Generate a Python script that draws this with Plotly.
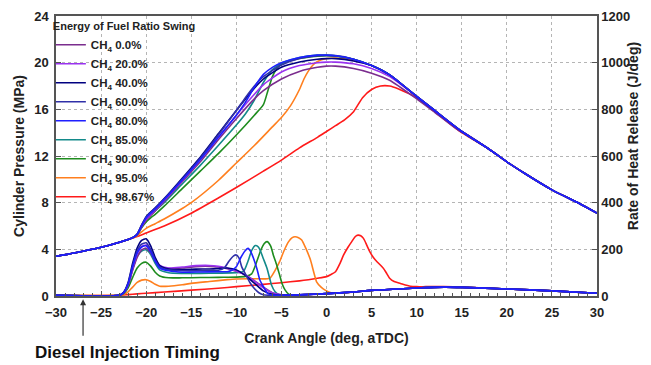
import plotly.graph_objects as go

# ---------------- data ----------------
LABELS = ["CH<sub>4</sub> 0.0%", "CH<sub>4</sub> 20.0%", "CH<sub>4</sub> 40.0%", "CH<sub>4</sub> 60.0%",
          "CH<sub>4</sub> 80.0%", "CH<sub>4</sub> 85.0%", "CH<sub>4</sub> 90.0%", "CH<sub>4</sub> 95.0%",
          "CH<sub>4</sub> 98.67%"]
COLORS = ["#7b2d8e", "#9a32f0", "#000080", "#3030a8", "#1f1fff", "#138a8a", "#1e8c1e", "#ff7f1e", "#ff1a1a"]

# Cylinder pressure (MPa): shared compression / expansion parts
CA_COMP = [-30, -28, -26, -24, -22, -21.5]
P_COMP = [3.4, 3.68, 4.0, 4.38, 4.85, 5.0]
CA_EXP = [5, 7, 10, 12, 15, 18, 20, 22, 25, 28, 30]
P_EXP = [19.75, 18.95, 17.1, 15.9, 14.1, 12.6, 11.5, 10.5, 9.1, 7.95, 7.1]

CA_P0 = [-21, -20.5, -20, -19.5, -19, -18, -16, -14, -12, -10, -8, -7, -5, -3, -1, 0, 1, 3, 5, 7, 10, 12, 15]
P_0 = [5.25, 5.9, 6.5, 6.9, 7.3, 8.1, 9.8, 11.5, 13.4, 15.2, 16.9, 17.6, 18.6, 19.25, 19.6, 19.7, 19.7, 19.5, 19.1, 18.5, 16.9, 15.75, 14.0]
CA_P20 = [-21, -20.5, -20, -19.5, -19, -18, -16, -14, -12, -10, -8, -7, -5, -3, -1, 0, 1, 3, 5, 7]
P_20 = [5.3, 6.0, 6.6, 7.0, 7.4, 8.2, 9.9, 11.7, 13.6, 15.5, 17.3, 18.1, 19.2, 19.75, 20.0, 20.05, 20.05, 19.9, 19.5, 18.8]
CA_P40 = [-21, -20.5, -20, -19.5, -19, -18, -16, -14, -12, -10, -8, -7, -5, -3, -1, 0, 1, 3]
P_40 = [5.3, 6.1, 6.8, 7.2, 7.55, 8.35, 10.1, 11.9, 13.9, 15.9, 17.8, 18.6, 19.6, 20.05, 20.3, 20.35, 20.35, 20.15]
CA_P60 = [-21, -20.5, -20, -19.5, -19, -18, -16, -14, -12, -10, -9, -8, -7, -5, -3, -1, 0, 1, 3]
P_60 = [5.3, 6.05, 6.75, 7.15, 7.5, 8.3, 10.0, 11.8, 13.8, 15.9, 17.0, 18.0, 18.8, 19.8, 20.35, 20.6, 20.62, 20.6, 20.3]
CA_P80 = [-21, -20.5, -20, -19.5, -19, -18, -16, -14, -12, -10, -9, -8, -7, -6, -5, -3, -1, 0, 1, 3]
P_80 = [5.3, 6.0, 6.7, 7.1, 7.45, 8.25, 9.95, 11.7, 13.6, 15.5, 16.6, 17.9, 19.0, 19.6, 20.0, 20.45, 20.65, 20.65, 20.6, 20.3]
CA_P85 = [-21, -20.5, -20, -19, -18, -16, -14, -12, -10, -9, -8, -7, -6, -5, -3, -1, 0, 1, 3]
P_85 = [5.28, 5.95, 6.6, 7.3, 8.0, 9.6, 11.2, 12.9, 14.65, 15.6, 16.8, 18.3, 19.4, 19.95, 20.45, 20.65, 20.65, 20.6, 20.3]
CA_P90 = [-21, -20.5, -20, -19.5, -19, -18, -16, -14, -12, -10, -8, -7, -6.5, -6, -5.5, -5, -3, -1, 0, 1, 3]
P_90 = [5.25, 5.85, 6.35, 6.7, 7.0, 7.7, 9.2, 10.7, 12.2, 13.8, 15.5, 16.4, 17.6, 18.8, 19.5, 19.9, 20.35, 20.55, 20.6, 20.55, 20.3]
CA_P95 = [-21, -20.5, -20, -19, -18, -16, -15, -12, -10, -8, -6, -5, -4, -3, -2.5, -2, -1.5, -1, 0, 1, 3]
P_95 = [5.15, 5.5, 5.8, 6.2, 6.6, 7.5, 8.0, 9.9, 11.4, 12.9, 14.5, 15.3, 16.3, 17.7, 18.6, 19.3, 19.8, 20.1, 20.35, 20.4, 20.2]
CA_P98 = [-21, -20, -18, -15, -12, -10, -7, -5, -3, -1, 0, 1, 2, 3, 4, 5, 6, 7, 8, 9, 10, 12, 15]
P_98 = [5.1, 5.4, 6.0, 7.1, 8.4, 9.3, 10.7, 11.65, 12.7, 13.6, 14.1, 14.6, 15.1, 15.8, 17.0, 17.7, 18.0, 18.0, 17.75, 17.4, 17.0, 15.8, 14.0]

# Rate of heat release (J/deg): shared pre-injection baseline and late tail
CA_PRE = [-30, -23]
HRR_PRE = [3, 3]
CA_TAIL = [0, 3, 5, 8, 10, 13, 15, 20, 25, 30]
HRR_TAIL = [10, 17, 24, 30, 34, 38, 37, 30, 22, 12]

CA_H0 = [-22.5, -22, -21.5, -21, -20.5, -20, -19.5, -19, -18.5, -17.5, -16, -14.5, -13, -12, -11, -10, -9, -8, -7, -6, -5, -3]
H_0 = [12, 45, 110, 165, 198, 205, 185, 150, 128, 118, 120, 126, 127, 124, 117, 106, 90, 66, 38, 14, 5, 5]
CA_H20 = [-22.5, -22, -21.5, -21, -20.5, -20, -19.5, -19, -18.5, -17.5, -16, -14.5, -13, -12, -11, -10, -9, -8, -7, -6, -5, -3]
H_20 = [14, 50, 120, 180, 212, 218, 198, 160, 132, 120, 124, 130, 131, 127, 119, 107, 90, 64, 35, 13, 5, 5]
CA_H40 = [-22.5, -22, -21.5, -21, -20.5, -20, -19.5, -19, -18.5, -17.5, -16, -14.5, -13, -12, -11, -10, -9, -8, -7, -6, -5, -3]
H_40 = [16, 58, 140, 205, 238, 245, 215, 165, 130, 116, 113, 115, 116, 118, 120, 112, 88, 55, 22, 7, 4, 5]
CA_H60 = [-22.5, -22, -21.5, -21, -20.5, -20, -19.5, -19, -18.5, -17.5, -16, -14, -12, -11.3, -10.8, -10.3, -10, -9.7, -9.4, -9, -8.5, -8, -7.5, -7, -6, -5, -3]
H_60 = [15, 54, 130, 192, 222, 228, 200, 155, 125, 112, 108, 108, 110, 122, 150, 172, 176, 162, 125, 95, 58, 32, 14, 5, 3, 4, 5]
CA_H80 = [-22.5, -22, -21.5, -21, -20.5, -20, -19.5, -19, -18.5, -17.5, -16, -14, -12, -11, -10.5, -10, -9.5, -9, -8.7, -8.4, -8.1, -7.7, -7.4, -7, -6.8, -6.5, -6, -5, -3]
H_80 = [14, 52, 125, 185, 210, 215, 190, 150, 120, 108, 102, 103, 104, 104, 110, 125, 165, 195, 204, 190, 162, 115, 70, 40, 26, 10, 4, 3, 5]
CA_H85 = [-22.5, -22, -21.5, -21, -20.5, -20, -19.5, -19, -18.5, -17.5, -16, -14, -12, -10, -9.2, -8.7, -8.3, -7.9, -7.6, -7.4, -7, -6.6, -6.3, -6.1, -5.7, -5.3, -4.5, -3]
H_85 = [13, 48, 115, 170, 192, 198, 178, 140, 112, 100, 97, 97, 98, 100, 106, 150, 195, 216, 212, 200, 160, 119, 75, 47, 18, 6, 3, 5]
CA_H90 = [-22.5, -22, -21.5, -21, -20.5, -20, -19.5, -19, -18.5, -17.5, -16, -14, -12, -10, -9, -8.3, -7.8, -7.3, -6.9, -6.6, -6.2, -5.9, -5.5, -5.2, -4.9, -4.6, -4.2, -3.5, -3]
H_90 = [10, 35, 80, 120, 140, 145, 128, 102, 86, 78, 78, 79, 80, 81, 84, 95, 140, 195, 225, 233, 215, 176, 130, 90, 50, 26, 8, 4, 5]
CA_H95 = [-22.5, -22, -21.5, -21, -20.5, -20, -19.5, -19, -18.5, -17.5, -16, -15, -13, -11, -10, -8, -6.3, -5.7, -5.2, -4.7, -4.2, -3.8, -3.5, -3.1, -2.75, -2.3, -1.8, -1.4, -1.1, -0.6, -0.2]
H_95 = [6, 18, 38, 58, 68, 70, 62, 50, 42, 42, 48, 54, 62, 70, 73, 74, 76, 110, 147, 195, 233, 250, 254, 250, 240, 205, 157, 100, 61, 38, 26]
CA_H98 = [-22, -21, -20, -18, -15, -12, -10, -7, -5, -3, -2, -1, 0, 0.5, 1, 1.5, 1.9, 2.4, 2.8, 3.2, 3.5, 3.8, 4.1, 4.5, 4.8, 5.2, 5.6, 6.3, 6.7, 7, 7.5, 8.2, 9.3, 10, 11, 13, 15, 20, 25, 30]
H_98 = [6, 9, 12, 17, 25, 33, 40, 50, 57, 65, 70, 76, 83, 92, 104, 140, 176, 210, 233, 255, 261, 258, 247, 215, 190, 165, 147, 119, 95, 76, 62, 54, 42, 40, 40, 40, 38, 30, 22, 12]

# ---------------- assemble ----------------
P_SETS = [
    (CA_COMP + CA_P0 + CA_EXP[4:], P_COMP + P_0 + P_EXP[4:]),
    (CA_COMP + CA_P20 + CA_EXP[2:], P_COMP + P_20 + P_EXP[2:]),
    (CA_COMP + CA_P40 + CA_EXP, P_COMP + P_40 + P_EXP),
    (CA_COMP + CA_P60 + CA_EXP, P_COMP + P_60 + P_EXP),
    (CA_COMP + CA_P80 + CA_EXP, P_COMP + P_80 + P_EXP),
    (CA_COMP + CA_P85 + CA_EXP, P_COMP + P_85 + P_EXP),
    (CA_COMP + CA_P90 + CA_EXP, P_COMP + P_90 + P_EXP),
    (CA_COMP + CA_P95 + CA_EXP, P_COMP + P_95 + P_EXP),
    (CA_COMP[:-1] + CA_P98 + CA_EXP[5:], P_COMP[:-1] + P_98 + P_EXP[5:]),
]
H_SETS = [
    (CA_PRE + CA_H0 + CA_TAIL, HRR_PRE + H_0 + HRR_TAIL),
    (CA_PRE + CA_H20 + CA_TAIL, HRR_PRE + H_20 + HRR_TAIL),
    (CA_PRE + CA_H40 + CA_TAIL, HRR_PRE + H_40 + HRR_TAIL),
    (CA_PRE + CA_H60 + CA_TAIL, HRR_PRE + H_60 + HRR_TAIL),
    (CA_PRE + CA_H80 + CA_TAIL, HRR_PRE + H_80 + HRR_TAIL),
    (CA_PRE + CA_H85 + CA_TAIL, HRR_PRE + H_85 + HRR_TAIL),
    (CA_PRE + CA_H90 + CA_TAIL, HRR_PRE + H_90 + HRR_TAIL),
    (CA_PRE + CA_H95 + [0.5, 2] + CA_TAIL[1:], HRR_PRE + H_95 + [14, 14] + HRR_TAIL[1:]),
    (CA_PRE + CA_H98, HRR_PRE + H_98),
]

DRAW_ORDER = [8, 7, 6, 5, 0, 1, 2, 3, 4]

fig = go.Figure()
for i in DRAW_ORDER:
    hx, hy = H_SETS[i]
    fig.add_trace(go.Scatter(x=hx, y=hy, yaxis="y2", mode="lines", line=dict(color=COLORS[i], width=1.6, shape="spline", smoothing=0.6),
                             legendgroup=str(i), showlegend=False, hoverinfo="skip"))
for i in DRAW_ORDER:
    px, py = P_SETS[i]
    fig.add_trace(go.Scatter(x=px, y=py, mode="lines", name=LABELS[i], legendrank=i + 1,
                             line=dict(color=COLORS[i], width=1.6, shape="spline", smoothing=0.6),
                             legendgroup=str(i)))

FONT = "Liberation Sans, Arial, sans-serif"
TITLE_FONT = dict(family=FONT, size=14, color="#222", weight="bold")
axis_common = dict(showline=True, linecolor="#555", linewidth=1.5, ticks="inside", ticklen=5, tickcolor="#555",
                   tickfont=dict(family=FONT, size=13, color="#222", weight="bold"), zeroline=False, automargin=False)

# the page body has an 8px margin, so the figure is 8px smaller and margins are offset
fig.update_layout(
    width=643, height=357, margin=dict(l=48, r=54, t=8, b=69, autoexpand=False),
    paper_bgcolor="white", plot_bgcolor="white",
    xaxis=dict(range=[-30, 30], dtick=5, tick0=0, mirror=True, showgrid=True, gridcolor="#b5b5b5", griddash="dot", gridwidth=1,
               minor=dict(ticks="inside", dtick=1, ticklen=3, tickcolor="#555"), ticklabelstandoff=4,
               title=dict(text="Crank Angle (deg, aTDC)", font=TITLE_FONT, standoff=14),
               **axis_common),
    yaxis=dict(range=[0, 24], dtick=4, mirror=True, showgrid=True, gridcolor="#b5b5b5", griddash="dot", gridwidth=1,
               title=dict(text="Cylinder Pressure (MPa)", font=TITLE_FONT, standoff=6),
               ticklabelstandoff=3, **axis_common),
    yaxis2=dict(range=[0, 1200], dtick=200, overlaying="y", side="right", showgrid=False, **axis_common),
    legend=dict(x=-0.0095, y=1.0, xanchor="left", yanchor="top", bgcolor="rgba(0,0,0,0)", borderwidth=0,
                maxheight=400,
                font=dict(family=FONT, size=11.5, color="#222", weight="bold"), tracegroupgap=0, itemwidth=30,
                title=dict(text="Energy of Fuel Ratio Swing", font=dict(family=FONT, size=11, color="#222", weight="bold"))),
    showlegend=True,
)

# right axis title
fig.add_annotation(x=1.068, xref="paper", y=0.57, yref="paper", text="Rate of Heat Release (J/deg)", textangle=-90,
                   showarrow=False, font=TITLE_FONT, xanchor="center", yanchor="middle")

fig.add_annotation(x=-27, xref="x", y=-0.012, yref="paper", text="", showarrow=True, ax=0, ay=38,
                   arrowhead=2, arrowsize=1, arrowwidth=1.2, arrowcolor="#333")
fig.add_annotation(x=0.132, xref="paper", y=-0.2, yref="paper", text="Diesel Injection Timing", showarrow=False,
                   font=dict(family=FONT, size=17, color="#111", weight="bold"), xanchor="center", yanchor="middle")

fig.write_html("out.html")
